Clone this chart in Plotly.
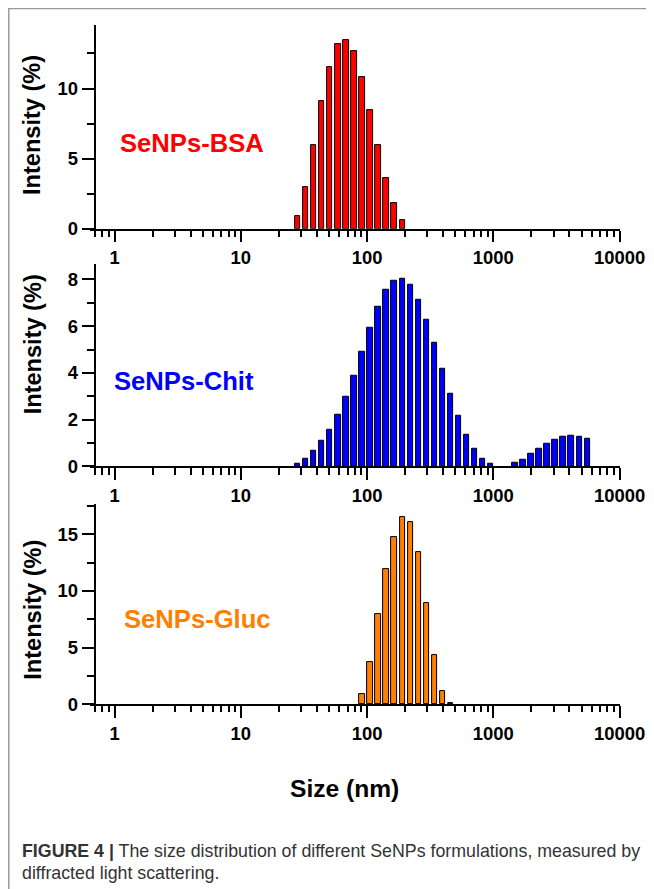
import math
import plotly.graph_objects as go

# The photographed page comes out slightly shrunk; positions below are given in
# reference-picture pixels and converted to page pixels with these factors.
SX, SY = 0.9635, 0.9874
OFF = 8  # default body margin of the page
W = int(round(654 / SX - OFF))
H = int(round(889 / SY - OFF))
KF = 2 / (SX + SY)  # size factor for fonts

# ---- data ----
bsa_size = [28.21, 32.67, 37.84, 43.82, 50.75, 58.77, 68.06, 78.82, 91.28, 105.7, 122.4, 141.8, 164.2, 190.1]
bsa_int = [0.88, 2.98, 5.95, 9.07, 11.55, 13.14, 13.45, 12.64, 10.83, 8.47, 5.95, 3.64, 1.81, 0.64]

chit_size = [28.21, 32.67, 37.84, 43.82, 50.75, 58.77, 68.06, 78.82, 91.28, 105.7, 122.4, 141.8,
             164.2, 190.1, 220.2, 255.0, 295.3, 342.0, 396.1, 458.7, 531.2, 615.1, 712.4, 825.0,
             955.4, 1484, 1718, 1990, 2305, 2669, 3091, 3580, 4145, 4801, 5560]
chit_int = [0.12, 0.34, 0.67, 1.09, 1.59, 2.20, 2.97, 3.89, 4.90, 5.92, 6.85, 7.54,
            7.95, 8.02, 7.76, 7.15, 6.29, 5.29, 4.20, 3.13, 2.17, 1.37, 0.76, 0.34,
            0.12, 0.15, 0.30, 0.53, 0.75, 0.96, 1.14, 1.26, 1.32, 1.29, 1.17]

gluc_size = [91.28, 105.7, 122.4, 141.8, 164.2, 190.1, 220.2, 255.0, 295.3, 342.0, 396.1, 458.7]
gluc_int = [0.88, 3.76, 8.00, 11.88, 14.77, 16.47, 16.09, 13.38, 8.97, 4.35, 1.20, 0.10]

x_tick_vals = [1, 10, 100, 1000, 10000]
x_tick_text = ["1", "10", "100", "1000", "10000"]
y_ticks = [[0, 5, 10], [0, 2, 4, 6, 8], [0, 5, 10, 15]]
y_minor = [2.5, 1, 2.5]
y_ranges = [[0, 14.52], [0, 8.67], [0, 17.65]]
labels = ["SeNPs-BSA", "SeNPs-Chit", "SeNPs-Gluc"]
colors = ["#FF0000", "#0000FF", "#FF8000"]

# ---- layout helpers (arguments are reference-picture pixels) ----
def px(x):
    return (x / SX - OFF) / W

def py(y):
    return 1 - (y / SY - OFF) / H

FONT = "Liberation Sans, Arial, sans-serif"
y_domains = [[py(228.3), py(25)], [py(465.7), py(263.3)], [py(703.3), py(503.3)]]
x_domain = [px(90), px(620.7)]
x_range = [math.log10(0.64), 4.0]

minor_vals = [math.log10(v) for v in [0.7, 0.8, 0.9]]
for d in [1, 10, 100, 1000]:
    for m in range(2, 10):
        minor_vals.append(math.log10(m * d))

fig = go.Figure()
series = [(bsa_size, bsa_int), (chit_size, chit_int), (gluc_size, gluc_int)]
for i, (s, v) in enumerate(series):
    n = "" if i == 0 else str(i + 1)
    fig.add_trace(go.Bar(
        x=[math.log10(a) for a in s], y=v, width=0.0425,
        marker=dict(color=colors[i], line=dict(color="black", width=1)),
        xaxis="x" + n, yaxis="y" + n, showlegend=False, hoverinfo="skip",
    ))
    fig.layout["xaxis" + n] = dict(
        domain=x_domain, range=x_range, anchor="y" + n, type="linear",
        showline=True, linecolor="black", linewidth=2,
        tickmode="array", tickvals=[math.log10(t) for t in x_tick_vals], ticktext=x_tick_text,
        ticks="outside", ticklen=11 / SY, tickwidth=2, tickcolor="black",
        minor=dict(tickmode="array", tickvals=minor_vals, ticks="outside", ticklen=6 / SY,
                   tickwidth=2, tickcolor="black", showgrid=False),
        tickfont=dict(family=FONT, size=18 * KF, color="black", weight="bold"),
        showgrid=False, zeroline=False, fixedrange=True,
    )
    fig.layout["yaxis" + n] = dict(
        domain=y_domains[i], range=y_ranges[i], anchor="free", position=px(95),
        showline=True, linecolor="black", linewidth=2,
        tickmode="array", tickvals=y_ticks[i],
        ticks="outside", ticklen=12 / SX, tickwidth=2, tickcolor="black",
        minor=dict(dtick=y_minor[i], tick0=0, ticks="outside", ticklen=7 / SX,
                   tickwidth=2, tickcolor="black", showgrid=False),
        tickfont=dict(family=FONT, size=18 * KF, color="black", weight="bold"),
        showgrid=False, zeroline=False, fixedrange=True,
    )

annotations = []
title_y = [125, 344, 609]
lab_pos = [(192.5, 142.7), (184, 380), (198, 618)]
for i in range(3):
    annotations.append(dict(
        text="<b>Intensity (%)</b>", x=px(32.5), y=py(title_y[i]), xref="paper", yref="paper",
        textangle=-90, showarrow=False, xanchor="center", yanchor="middle",
        font=dict(family=FONT, size=23 * KF, color="black"),
    ))
    annotations.append(dict(
        text="<b>%s</b>" % labels[i], x=px(lab_pos[i][0]), y=py(lab_pos[i][1]),
        xref="paper", yref="paper", showarrow=False, xanchor="center", yanchor="middle",
        font=dict(family=FONT, size=25 * KF, color=colors[i]),
    ))
annotations.append(dict(
    text="<b>Size (nm)</b>", x=px(345), y=py(787), xref="paper", yref="paper",
    showarrow=False, xanchor="center", yanchor="middle",
    font=dict(family=FONT, size=24 * KF, color="black"),
))
annotations.append(dict(
    text="<b>FIGURE 4 |</b> The size distribution of different SeNPs formulations, measured by",
    x=px(20), y=py(850), xref="paper", yref="paper", showarrow=False,
    xanchor="left", yanchor="middle", font=dict(family=FONT, size=17.8, color="#333333"),
))
annotations.append(dict(
    text="diffracted light scattering.",
    x=px(20), y=py(872), xref="paper", yref="paper", showarrow=False,
    xanchor="left", yanchor="middle", font=dict(family=FONT, size=17.8, color="#333333"),
))

shapes = [dict(
    type="path", xref="paper", yref="paper",
    path="M %f,%f L %f,%f L %f,%f" % (px(8.5), py(889), px(8.5), py(8.5), px(654), py(8.5)),
    line=dict(color="#999999", width=1.5),
)]

fig.update_layout(
    width=W, height=H, margin=dict(l=0, r=0, t=0, b=0),
    paper_bgcolor="white", plot_bgcolor="white",
    annotations=annotations, shapes=shapes, bargap=0,
)
fig.write_html("out.html", config={"displayModeBar": False})
